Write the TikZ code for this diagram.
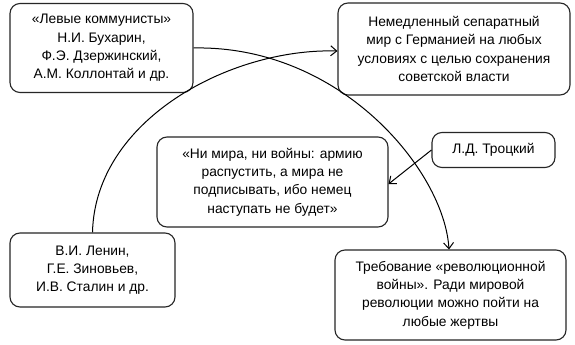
\documentclass[tikz,border=0pt]{standalone}
\usepackage{fontspec}
\setmainfont{Liberation Sans}
\usetikzlibrary{arrows.meta}
\begin{document}
\begin{tikzpicture}[x=1pt,y=-1pt,
  box/.style={draw=black!85, line width=1.1pt, rounded corners=10pt, fill=white, align=center, inner sep=0pt, font=\fontsize{13.8}{18.3}\selectfont},
  conn/.style={draw=black, line width=1pt, -{Straight Barb[length=6pt,width=10pt,line width=1pt]}}]
\useasboundingbox (0,0) rectangle (575,345);
\fill[white] (0,0) rectangle (575,345);
% boxes
\node[box, minimum width=183pt, minimum height=89pt] (lev) at (101.5,48) {«Левые коммунисты»\\Н.И. Бухарин,\\Ф.Э. Дзержинский,\\А.М. Коллонтай и др.};
\node[box, minimum width=232pt, minimum height=92pt] (mir) at (454,49) {Немедленный сепаратный\\мир с Германией на любых\\условиях с целью сохранения\\советской власти};
\node[box, minimum width=231pt, minimum height=90pt] (ni) at (272.5,182) {«Ни мира, ни войны: армию\\распустить, а мира не\\подписывать, ибо немец\\наступать не будет»};
\node[box, minimum width=123pt, minimum height=35pt] (tr) at (493.5,150) {Л.Д. Троцкий};
\node[box, minimum width=165pt, minimum height=74pt] (len) at (92.5,270) {В.И. Ленин,\\Г.Е. Зиновьев,\\И.В. Сталин и др.};
\node[box, minimum width=231pt, minimum height=90pt] (treb) at (450.5,295) {Требование «революционной\\войны». Ради мировой\\революции можно пойти на\\любые жертвы};
% connectors
\draw[conn] (lev.east) .. controls (340,45) and (444,170) .. ([xshift=-1.5pt]treb.north);
\draw[conn] (len.north) .. controls (95,120) and (230,48) .. ([yshift=-2pt]mir.west);
\draw[conn] (tr.west) -- ([yshift=-2pt]ni.east);
\end{tikzpicture}
\end{document}
